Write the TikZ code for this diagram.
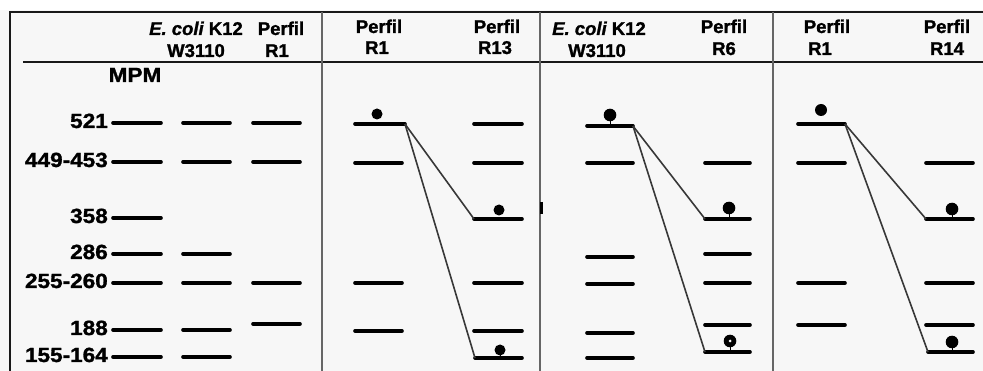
\documentclass[tikz,border=0pt]{standalone}
\usepackage{fontspec}
\setmainfont{Liberation Sans}
\newfontfamily\heavy[FakeBold=1.3]{Liberation Sans Bold}
\newfontfamily\heavyit[FakeBold=1.3]{Liberation Sans Bold Italic}
\newcommand\wide[1]{\scalebox{1.1}[1]{#1}}
\begin{document}
\begin{tikzpicture}[x=1pt,y=-1pt,
  band/.style={line width=3.6pt, line cap=round},
  conn/.style={line width=1.6pt, black!78},
  divider/.style={line width=2.2pt, black!60},
  rule/.style={line width=2pt, black!90},
  hdr/.style={font=\fontsize{18.5}{20}\selectfont\heavy, inner sep=0pt, anchor=base},
  num/.style={font=\fontsize{20.5}{22}\selectfont\heavy, inner sep=0pt, anchor=base east},
  dotmark/.style={fill=black}]
\useasboundingbox (0,0) rectangle (983,371);
\fill[black!3] (0,0) rectangle (983,371);
\fill[white] (0,0) rectangle (983,10);
% frame and rules
\draw[rule] (10,371) -- (10,12) -- (983,12);
\draw[rule] (23,62) -- (983,62);
\draw[divider] (322,12) -- (322,371);
\draw[divider] (540,12) -- (540,371);
\draw[line width=3pt] (541,202) -- (541,214);
\draw[divider] (773,12) -- (773,371);
% headers
\node[hdr] (h1a) at (196,35) {{\heavyit E. coli} K12};
\node[hdr] (h1b) at (196,57) {W3110};
\node[hdr] (h2a) at (281,35) {Perfil};
\node[hdr] (h2b) at (277,57) {R1};
\node[hdr] (h3a) at (379,33) {Perfil};
\node[hdr] (h3b) at (377,54) {R1};
\node[hdr] (h4a) at (497,33) {Perfil};
\node[hdr] (h4b) at (495,54) {R13};
\node[hdr] (h5a) at (599,35) {{\heavyit E. coli} K12};
\node[hdr] (h5b) at (597,57) {W3110};
\node[hdr] (h6a) at (724,33) {Perfil};
\node[hdr] (h6b) at (724,55) {R6};
\node[hdr] (h7a) at (827,33) {Perfil};
\node[hdr] (h7b) at (820,55) {R1};
\node[hdr] (h8a) at (947,33) {Perfil};
\node[hdr] (h8b) at (947,55) {R14};
\node[num, anchor=base] (mpm) at (135,82) {\wide{MPM}};
% size labels
\node[num] (m521) at (108,128) {\wide{521}};
\node[num] (m449) at (108,167) {\wide{449-453}};
\node[num] (m358) at (108,223) {\wide{358}};
\node[num] (m286) at (108,259) {\wide{286}};
\node[num] (m255) at (108,288) {\wide{255-260}};
\node[num] (m188) at (108,335) {\wide{188}};
\node[num] (m155) at (108,362) {\wide{155-164}};
% panel 1 bands
\foreach \y in {123,162,218,254,283,330,357} \draw[band] (113,\y) -- (161,\y);
\foreach \y in {123,162,254,283,330,357} \draw[band] (183,\y) -- (230,\y);
\foreach \y in {123,162,283,324} \draw[band] (253,\y) -- (300,\y);
% panel 2
\coordinate (p2s) at (405,124);
\coordinate (p2m) at (474,219);
\coordinate (p2l) at (475,358);
\draw[band] (355,124) -- (p2s);
\foreach \y in {163,283,331} \draw[band] (355,\y) -- (402,\y);
\foreach \y in {124,163,283,331} \draw[band] (474,\y) -- (522,\y);
\draw[band] (p2m) -- (522,219);
\draw[band] (p2l) -- (522,358);
\draw[conn] (p2s) -- (p2m);
\draw[conn] (p2s) -- (p2l);
\fill[dotmark] (377,114) circle (5.5);
\fill[dotmark] (499,210) circle (5.5);
\draw[line width=1pt] (500,350) -- (500,358);
\fill[dotmark] (500,350) circle (5.5);
% panel 3
\coordinate (p3s) at (633,126);
\coordinate (p3m) at (705,219);
\coordinate (p3l) at (705,352);
\draw[band] (587,126) -- (p3s);
\foreach \y in {163,257,284,333,358} \draw[band] (587,\y) -- (633,\y);
\foreach \y in {163,254,283,325} \draw[band] (705,\y) -- (750,\y);
\draw[band] (p3m) -- (750,219);
\draw[band] (p3l) -- (750,352);
\draw[conn] (p3s) -- (p3m);
\draw[conn] (p3s) -- (p3l);
\draw[line width=1pt] (610,115) -- (610,126);
\fill[dotmark] (610,115) circle (6.3);
\draw[line width=1pt] (729,208) -- (729,219);
\fill[dotmark] (729,208) circle (6.3);
\draw[line width=1pt] (730,341) -- (730,352);
\fill[dotmark] (730,341) circle (6.3);
\fill[white] (730,341) circle (1.5);
% panel 4
\coordinate (p4s) at (845,124);
\coordinate (p4m) at (926,219);
\coordinate (p4l) at (928,352);
\draw[band] (798,124) -- (p4s);
\foreach \y in {163,283,325} \draw[band] (798,\y) -- (845,\y);
\foreach \y in {163,283,325} \draw[band] (926,\y) -- (973,\y);
\draw[band] (p4m) -- (973,219);
\draw[band] (p4l) -- (973,352);
\draw[conn] (p4s) -- (p4m);
\draw[conn] (p4s) -- (p4l);
\fill[dotmark] (821,110) circle (6);
\draw[line width=1pt] (952,209) -- (952,219);
\fill[dotmark] (952,209) circle (6.3);
\draw[line width=1pt] (952,342) -- (952,352);
\fill[dotmark] (952,342) circle (6.3);
\end{tikzpicture}
\end{document}
